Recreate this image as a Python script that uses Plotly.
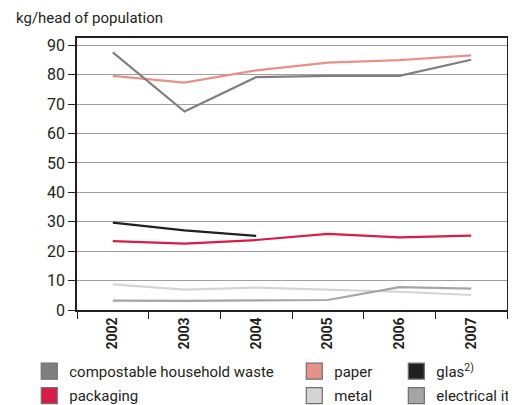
import plotly.graph_objects as go

years = ["2002", "2003", "2004", "2005", "2006", "2007"]
compostable = [87.6, 67.5, 79.2, 79.6, 79.6, 85.1]
paper = [79.6, 77.3, 81.5, 84.1, 85.0, 86.6]
glas = [29.7, 27.1, 25.2, None, None, None]
packaging = [23.4, 22.6, 23.8, 25.9, 24.7, 25.3]
metal = [8.7, 6.9, 7.6, 6.8, 6.2, 5.1]
electrical = [3.2, 3.1, 3.3, 3.4, 7.8, 7.3]

FONT = "Roboto"
series = [
    ("compostable household waste", compostable, "#7f7f81", "legend"),
    ("packaging", packaging, "#d81c47", "legend"),
    ("paper", paper, "#e8918b", "legend2"),
    ("metal", metal, "#d4d4d5", "legend2"),
    ("glas<sup>2)</sup>", glas, "#231f20", "legend3"),
    ("electrical items", electrical, "#a5a5a7", "legend3"),
]

fig = go.Figure()
for name, vals, col, lg in [series[3], series[5], series[1], series[4], series[2], series[0]]:
    fig.add_trace(go.Scatter(x=years, y=vals, mode="lines", name=name,
                             line=dict(color=col, width=2.2), showlegend=False))
for name, vals, col, lg in series:
    fig.add_trace(go.Scatter(x=[None], y=[None], mode="markers", name=name, legend=lg,
                             legendgroup=name,
                             marker=dict(symbol="square", size=16, color=col,
                                         line=dict(color="#6f6f6f", width=1.2))))

legend_common = dict(orientation="v", yanchor="top", xanchor="left",
                     font=dict(family=FONT, size=15, color="#231f20"),
                     bgcolor="rgba(0,0,0,0)", tracegroupgap=2, itemsizing="trace")
fig.update_layout(
    width=516, height=405,
    margin=dict(l=69, r=17, t=30, b=103, autoexpand=False),
    paper_bgcolor="white", plot_bgcolor="white",
    font=dict(family=FONT, size=15, color="#231f20"),
    title=dict(text="kg/head of population", x=8/516, xanchor="left",
               y=1-10/405, yanchor="middle", font=dict(family=FONT, size=15, color="#231f20")),
    legend=dict(x=-0.111, y=-0.165, **legend_common),
    legend2=dict(x=0.5053, y=-0.165, **legend_common),
    legend3=dict(x=0.7426, y=-0.165, **legend_common),
    xaxis=dict(type="category", tickson="boundaries", ticks="outside", ticklen=7,
               tickcolor="#231f20", tickwidth=1.2, showline=True, linecolor="#231f20",
               linewidth=1.5, mirror=True, showgrid=False, tickangle=-90,
               tickfont=dict(family=FONT, size=14, color="#231f20", weight="bold"),
               range=[-0.5, 5.5]),
    yaxis=dict(range=[0, 92.5], dtick=10, ticks="outside", ticklen=7, tickcolor="#231f20",
               tickwidth=1.2, showline=True, linecolor="#231f20", linewidth=1.5, mirror=True,
               showgrid=True, gridcolor="#a0a0a0", gridwidth=1, zeroline=False,
               tickfont=dict(family=FONT, size=16, color="#231f20")),
)
fig.write_html("out.html")
